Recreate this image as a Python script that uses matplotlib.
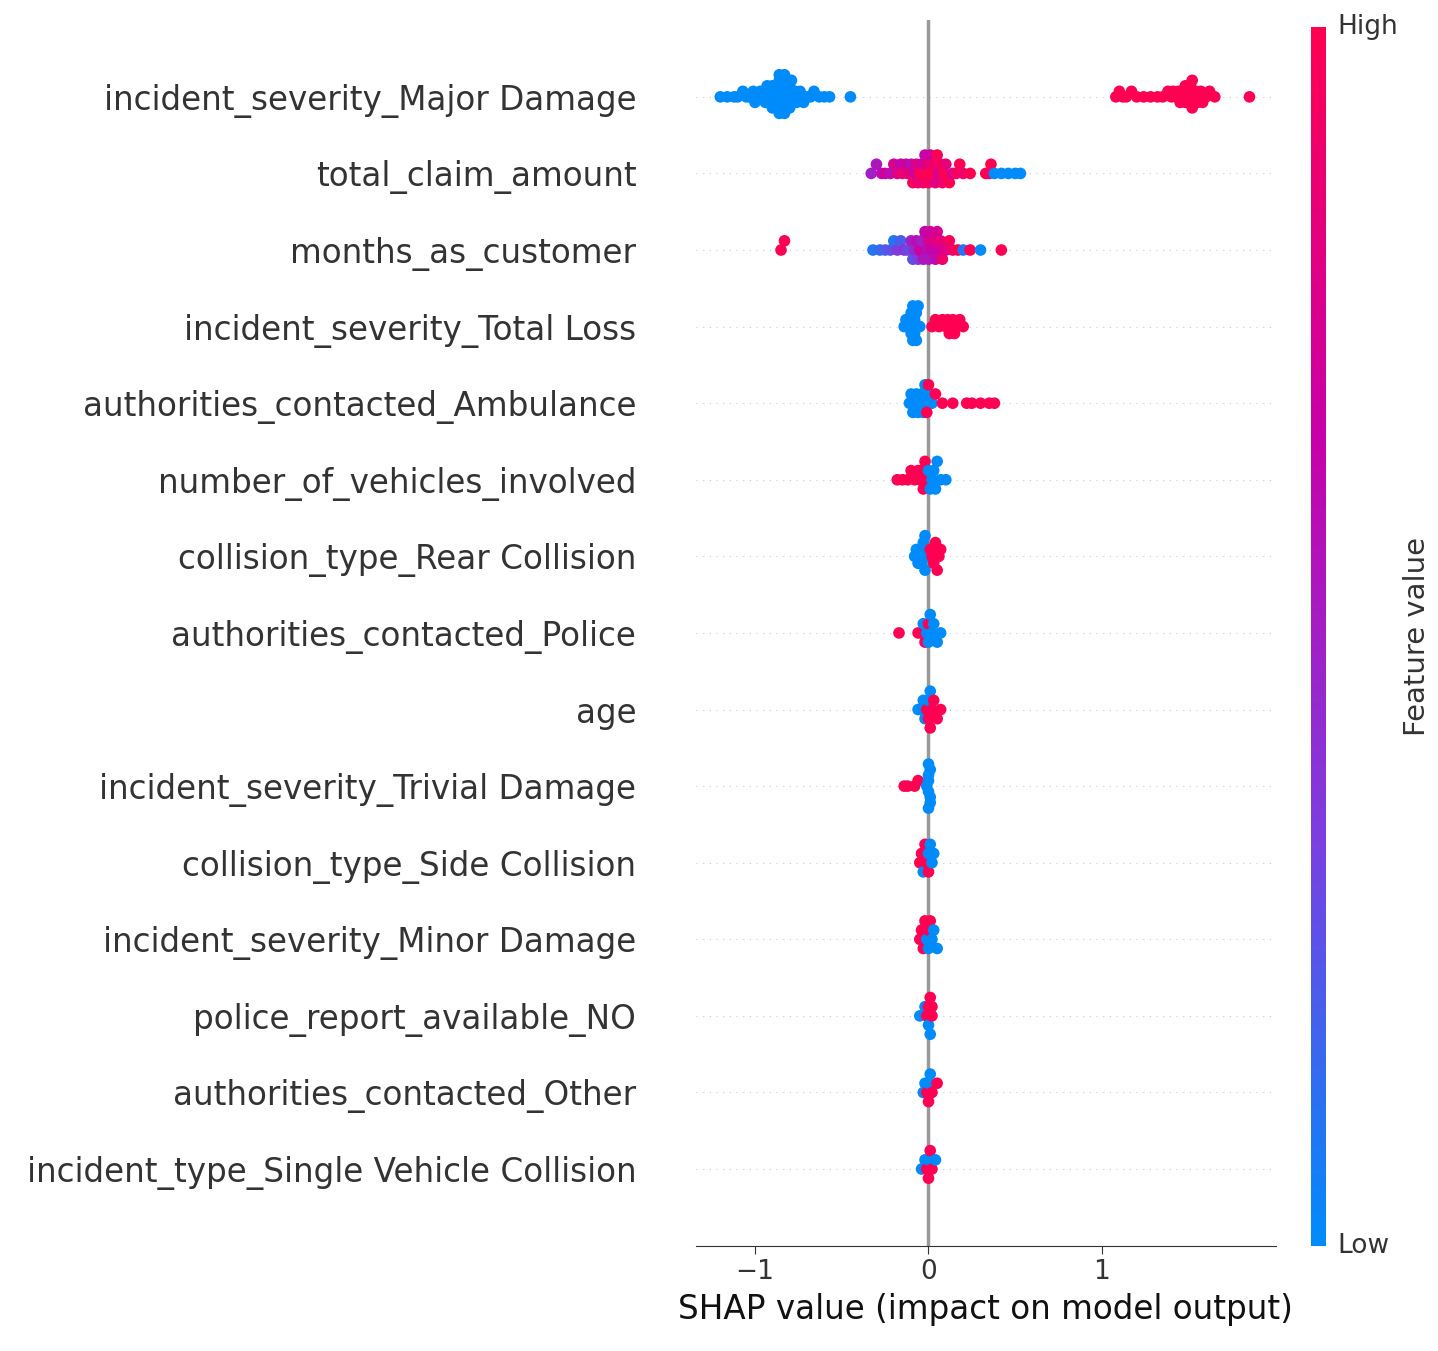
import matplotlib

matplotlib.use("Agg")

import matplotlib.pyplot as plt
import numpy as np
from matplotlib.colors import LinearSegmentedColormap

FEATURES = [
    "incident_severity_Major Damage",
    "total_claim_amount",
    "months_as_customer",
    "incident_severity_Total Loss",
    "authorities_contacted_Ambulance",
    "number_of_vehicles_involved",
    "collision_type_Rear Collision",
    "authorities_contacted_Police",
    "age",
    "incident_severity_Trivial Damage",
    "collision_type_Side Collision",
    "incident_severity_Minor Damage",
    "police_report_available_NO",
    "authorities_contacted_Other",
    "incident_type_Single Vehicle Collision",
]

# (shap value, feature value 0..1) per feature
SHAP_X = {
    "incident_severity_Major Damage": [
        -1.2, -1.16, -1.12, -1.1, -1.07, -1.05, -1.03, -1.01, -1.0, -0.99, -0.97, -0.96, -0.95, -0.94,
        -0.93, -0.92, -0.92, -0.91, -0.9, -0.9, -0.89, -0.88, -0.88, -0.87, -0.87, -0.86, -0.86, -0.86,
        -0.85, -0.85, -0.85, -0.84, -0.84, -0.84, -0.83, -0.83, -0.82, -0.82, -0.81, -0.8, -0.8, -0.79,
        -0.78, -0.77, -0.76, -0.75, -0.74, -0.72, -0.7, -0.68, -0.66, -0.63, -0.6, -0.57, -0.45,
        1.08, 1.1, 1.12, 1.14, 1.17, 1.2, 1.24, 1.28, 1.32, 1.35, 1.38, 1.4, 1.41, 1.43, 1.44, 1.45,
        1.46, 1.47, 1.48, 1.48, 1.49, 1.5, 1.5, 1.51, 1.52, 1.52, 1.53, 1.54, 1.55, 1.56, 1.57, 1.58,
        1.6, 1.62, 1.65, 1.85,
    ],
    "total_claim_amount": [
        -0.33, -0.3, -0.27, -0.25, -0.22, -0.2, -0.18, -0.16, -0.15, -0.13, -0.12, -0.1, -0.09, -0.08,
        -0.07, -0.06, -0.05, -0.04, -0.03, -0.02, -0.01, 0.0, 0.0, 0.01, 0.02, 0.03, 0.04, 0.05, 0.06,
        0.07, 0.08, 0.09, 0.1, 0.12, 0.14, 0.16, 0.18, 0.2, 0.24, 0.33, 0.35, 0.36, 0.38, 0.42, 0.46,
        0.5, 0.53,
    ],
    "months_as_customer": [
        -0.85, -0.83, -0.32, -0.28, -0.25, -0.22, -0.2, -0.18, -0.16, -0.14, -0.12, -0.1, -0.09, -0.08,
        -0.07, -0.06, -0.05, -0.04, -0.03, -0.02, -0.01, 0.0, 0.0, 0.01, 0.02, 0.03, 0.04, 0.05, 0.06,
        0.07, 0.08, 0.1, 0.12, 0.14, 0.17, 0.2, 0.24, 0.3, 0.42,
    ],
    "incident_severity_Total Loss": [
        -0.14, -0.13, -0.12, -0.11, -0.1, -0.1, -0.09, -0.09, -0.08, -0.08, -0.08, -0.07, -0.07, -0.06,
        -0.05, 0.02, 0.04, 0.06, 0.08, 0.1, 0.11, 0.12, 0.13, 0.14, 0.15, 0.16, 0.18, 0.2,
    ],
    "authorities_contacted_Ambulance": [
        -0.11, -0.1, -0.09, -0.08, -0.07, -0.06, -0.05, -0.04, -0.03, -0.02, -0.01, 0.0, 0.02,
        -0.01, 0.0, 0.04, 0.08, 0.14, 0.22, 0.25, 0.3, 0.35, 0.38,
    ],
    "number_of_vehicles_involved": [
        -0.18, -0.15, -0.12, -0.1, -0.08, -0.06, -0.05, -0.04, -0.03, -0.02, -0.01,
        0.0, 0.01, 0.02, 0.03, 0.04, 0.05, 0.07, 0.1,
    ],
    "collision_type_Rear Collision": [
        -0.08, -0.07, -0.06, -0.05, -0.05, -0.04, -0.03, -0.02, -0.02, -0.01,
        0.01, 0.02, 0.03, 0.03, 0.04, 0.05, 0.06, 0.07,
    ],
    "authorities_contacted_Police": [
        -0.17, -0.06, -0.04, -0.03, -0.02, -0.01, 0.0, 0.0, 0.01, 0.02, 0.03, 0.05, 0.07,
    ],
    "age": [
        -0.06, -0.04, -0.03, -0.02, -0.01, 0.0, 0.0, 0.01, 0.01, 0.02, 0.03, 0.05, 0.07,
    ],
    "incident_severity_Trivial Damage": [
        -0.14, -0.12, -0.08, -0.06, -0.01, 0.0, 0.0, 0.0, 0.01, 0.01, 0.01, 0.0, 0.0,
    ],
    "collision_type_Side Collision": [
        -0.05, -0.04, -0.03, -0.02, -0.01, 0.0, 0.0, 0.01, 0.02, 0.03,
    ],
    "incident_severity_Minor Damage": [
        -0.05, -0.04, -0.03, -0.02, -0.01, 0.0, 0.0, 0.01, 0.02, 0.03, 0.05,
    ],
    "police_report_available_NO": [
        -0.05, -0.02, -0.01, 0.0, 0.0, 0.01, 0.01, 0.02, 0.02,
    ],
    "authorities_contacted_Other": [
        -0.03, -0.02, -0.01, 0.0, 0.0, 0.01, 0.02, 0.05,
    ],
    "incident_type_Single Vehicle Collision": [
        -0.04, -0.02, -0.01, 0.0, 0.0, 0.01, 0.02, 0.04,
    ],
}

FEAT_V = {
    "incident_severity_Major Damage": [0.0] * 55 + [1.0] * 36,
    "total_claim_amount": [
        0.5, 0.55, 0.6, 0.7, 0.6, 0.75, 0.8, 0.65, 0.9, 0.7, 0.85, 0.6, 0.95, 0.7, 0.8, 0.9, 1.0, 0.75,
        0.9, 0.65, 1.0, 0.85, 0.95, 0.7, 1.0, 0.9, 0.8, 1.0, 0.75, 0.95, 0.9, 1.0, 0.85, 1.0, 0.7,
        0.95, 1.0, 0.9, 1.0, 1.0, 0.95, 1.0, 0.0, 0.0, 0.0, 0.0, 0.0,
    ],
    "months_as_customer": [
        1.0, 1.0, 0.1, 0.15, 0.2, 0.25, 0.1, 0.35, 0.2, 0.4, 0.3, 0.5, 0.25, 0.45, 0.6, 0.35, 0.7, 0.5,
        0.55, 0.65, 0.6, 0.75, 0.55, 0.7, 0.65, 0.8, 0.6, 0.75, 0.7, 0.85, 0.9, 0.8, 0.95, 0.9, 1.0,
        0.1, 1.0, 0.0, 1.0,
    ],
    "incident_severity_Total Loss": [0.0] * 15 + [1.0] * 13,
    "authorities_contacted_Ambulance": [0.0] * 13 + [1.0] * 10,
    "number_of_vehicles_involved": [1.0] * 11 + [0.0] * 8,
    "collision_type_Rear Collision": [0.0] * 10 + [1.0] * 8,
    "authorities_contacted_Police": [1.0, 1.0, 1.0, 0.0, 1.0, 0.0, 1.0, 0.0, 0.0, 0.0, 0.0, 0.0, 0.0],
    "age": [0.0, 0.0, 0.0, 0.0, 1.0, 0.0, 1.0, 0.0, 1.0, 1.0, 1.0, 1.0, 1.0],
    "incident_severity_Trivial Damage": [1.0] * 4 + [0.0] * 9,
    "collision_type_Side Collision": [1.0, 1.0, 0.0, 1.0, 1.0, 0.0, 1.0, 0.0, 0.0, 0.0],
    "incident_severity_Minor Damage": [1.0, 1.0, 1.0, 1.0, 0.0, 1.0, 0.0, 1.0, 0.0, 0.0, 0.0],
    "police_report_available_NO": [0.0, 0.0, 1.0, 1.0, 0.0, 1.0, 0.0, 1.0, 1.0],
    "authorities_contacted_Other": [0.0, 0.0, 1.0, 0.0, 1.0, 0.0, 1.0, 1.0],
    "incident_type_Single Vehicle Collision": [0.0, 0.0, 1.0, 0.0, 1.0, 1.0, 1.0, 0.0],
}

BLUE = "#008bfb"
RED = "#ff0052"
cmap = LinearSegmentedColormap.from_list("red_blue", [BLUE, "#7b3fe0", "#c800a8", RED])


def swarm_offsets(x: np.ndarray, row_height: float = 0.4, bin_w: float = 0.035) -> np.ndarray:
    # shap-style beeswarm: stack points that fall in the same x bin
    quant = np.round(x / bin_w)
    order = np.argsort(quant, kind="stable")
    ys = np.zeros(len(x))
    layer, last = 0, None
    for ind in order:
        if quant[ind] != last:
            layer = 0
        ys[ind] = np.ceil(layer / 2) * ((layer % 2) * 2 - 1)
        layer += 1
        last = quant[ind]
    ys *= 0.9 * (row_height / max(np.max(np.abs(ys)) + 1, 1))
    return ys


fig = plt.figure(figsize=(14.38, 13.51), dpi=100)
ax = fig.add_axes([0.484, 0.078, 0.403, 0.907])

n = len(FEATURES)
for i, name in enumerate(FEATURES):
    pos = n - 1 - i
    x = np.array(SHAP_X[name])
    v = np.array(FEAT_V[name])
    ax.axhline(pos, color="#cccccc", lw=0.8, dashes=(1, 5), zorder=-1)
    ys = swarm_offsets(x)
    ax.scatter(x, pos + ys, c=v, cmap=cmap, vmin=0, vmax=1, s=70, linewidths=0, zorder=3, rasterized=True)

ax.axvline(0, color="#999999", lw=2.5, zorder=2)
ax.set_ylim(-1, n)
ax.set_xlim(-1.34, 2.0)
ax.set_yticks(range(n))
ax.set_yticklabels(FEATURES[::-1], fontsize=23.5, color="#333333")
ax.tick_params(axis="y", length=0, pad=43)
ax.set_xticks([-1, 0, 1])
ax.set_xticklabels(["\u22121", "0", "1"])
ax.tick_params(axis="x", labelsize=19, labelcolor="#333333", length=6, color="#333333")
ax.set_xlabel("SHAP value (impact on model output)", fontsize=23.5, color="#111111", labelpad=6)
for s in ["top", "right", "left"]:
    ax.spines[s].set_visible(False)
ax.spines["bottom"].set_color("#333333")

cax = fig.add_axes([0.912, 0.078, 0.010, 0.902])
sm = plt.cm.ScalarMappable(cmap=cmap, norm=plt.Normalize(0, 1))
cb = fig.colorbar(sm, cax=cax, ticks=[])
cb.outline.set_visible(False)
cax.text(1.8, 1.0, "High", transform=cax.transAxes, fontsize=19, color="#333333", va="center", ha="left")
cax.text(1.8, 0.0, "Low", transform=cax.transAxes, fontsize=19, color="#333333", va="center", ha="left")
cax.set_ylabel("Feature value", fontsize=21, color="#333333")
cax.yaxis.set_label_position("right")
cax.yaxis.set_label_coords(6.4, 0.5)

fig.savefig("out.png", dpi=100)
